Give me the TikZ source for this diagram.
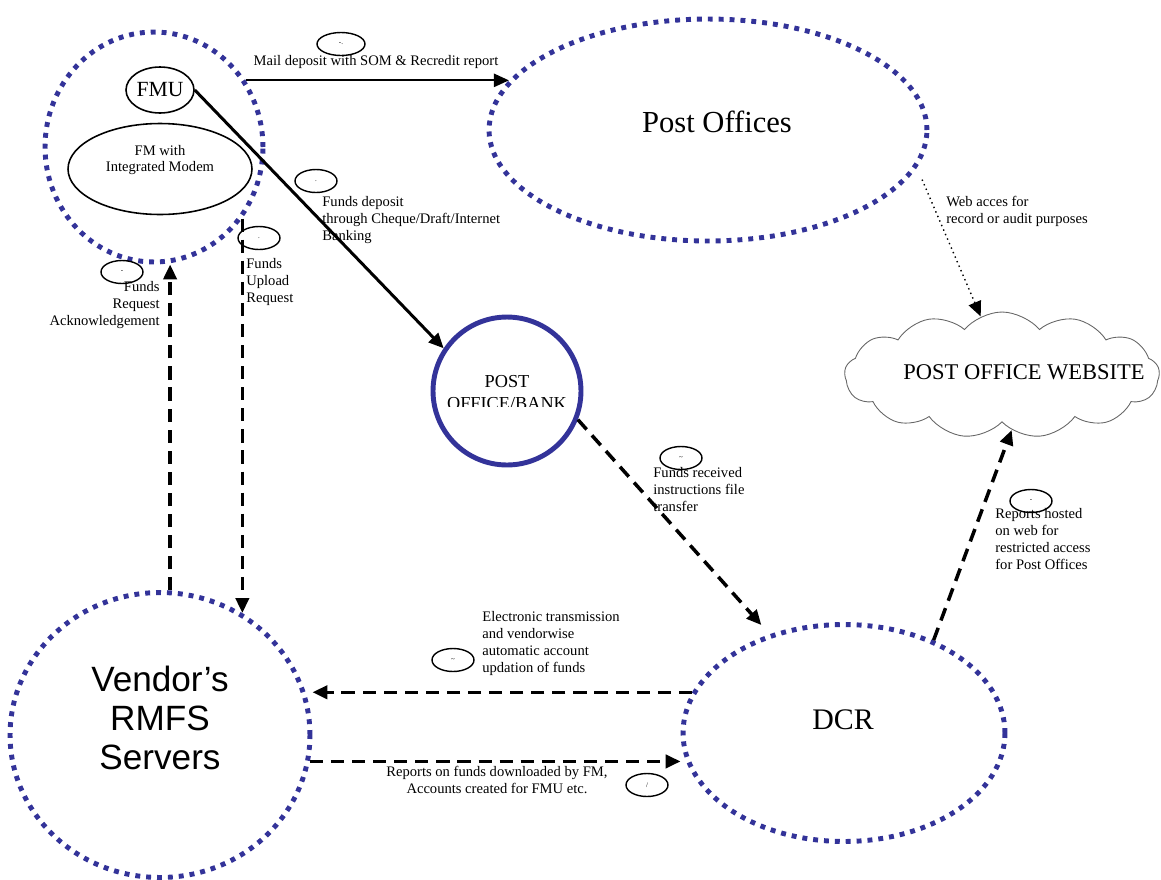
\documentclass[tikz,border=0pt]{standalone}
\usepackage{fontspec}
\setmainfont{Liberation Serif}
\setsansfont{Liberation Sans}
\usetikzlibrary{shapes.geometric,shapes.symbols,arrows.meta}
\definecolor{zoneblue}{RGB}{51,51,153}
\tikzset{
  bluezone/.style={ellipse, draw=zoneblue, line width=2.8pt, dash pattern=on 2.8pt off 3.4pt, inner sep=0pt},
  plainbox/.style={ellipse, draw, line width=0.9pt, inner sep=0pt},
  numtag/.style={ellipse, draw, line width=0.8pt, minimum width=0.84cm, minimum height=0.46cm, inner sep=0pt, font=\fontsize{4}{4}\selectfont},
  labeltext/.style={inner sep=0pt, align=left, font=\fontsize{8.3}{9.6}\selectfont},
  flow/.style={-{Triangle[length=8.5pt,width=7.5pt]}},
  dataflow/.style={flow, line width=2pt, dash pattern=on 7.5pt off 4.5pt}
}
\begin{document}
\begin{tikzpicture}[x=0.02cm, y=-0.02cm]
    \useasboundingbox (0,0) rectangle (1161,880);

    % FMU zone
    \node[bluezone, minimum width=4.36cm, minimum height=4.6cm] (fmuzone) at (154,147) {};
    \node[plainbox, minimum width=1.36cm, minimum height=0.92cm, font=\fontsize{12.3}{14}\selectfont] (fmu) at (160,90) {FMU};
    \node[plainbox, minimum width=3.68cm, minimum height=1.82cm] (modem) at (160,169) {};
    \node[labeltext, align=center] (modemtext) at (160,160) {FM with\\Integrated Modem};

    % Post Offices
    \node[bluezone, minimum width=8.76cm, minimum height=4.44cm] (postoffices) at (708,130) {};
    \node[font=\fontsize{17.4}{20}\selectfont] (postofficestext) at (717,122) {Post Offices};

    % Post office / bank
    \node[circle, draw=zoneblue, line width=2.8pt, minimum size=2.96cm, inner sep=0pt] (pobank) at (507,391) {};
    \begin{scope}
        \clip (420,300) rectangle (600,406);
        \node[font=\fontsize{10.4}{12.5}\selectfont, align=center] (pobanktext) at (507,393) {POST\\OFFICE/BANK};
    \end{scope}

    % Website
    \node[cloud, draw=black!60, line width=0.5pt, cloud puffs=13, cloud puff arc=100, cloud ignores aspect, minimum width=6.3cm, minimum height=2.52cm, inner sep=0pt] (website) at (1002,375) {};
    \node[font=\fontsize{12.8}{15}\selectfont] (websitetext) at (1024,372) {POST OFFICE WEBSITE};

    % DCR
    \node[bluezone, minimum width=6.44cm, minimum height=4.34cm] (dcr) at (844,733) {};
    \node[font=\fontsize{17}{20}\selectfont] (dcrtext) at (843,720) {DCR};

    % Vendor servers
    \node[bluezone, minimum width=6cm, minimum height=5.7cm] (vendor) at (160,735) {};
    \node[font=\sffamily\fontsize{20}{22}\selectfont, align=center] (vendortext) at (160,718) {Vendor’s\\RMFS\\Servers};

    % Mail deposit
    \draw[flow, line width=1.1pt] (fmuzone.36) -- (fmuzone.36 -| postoffices.166);
    \node[labeltext] (mailnote) at (376,62) {Mail deposit with SOM \& Recredit report};
    \node[numtag, minimum width=0.96cm] (tagmail) at (341,44) {-.};

    % Funds deposit
    \draw[flow, line width=1.7pt] (fmu.east) -- (pobank.146);
    \node[labeltext, anchor=north west] (depositnote) at (322,196) {Funds deposit\\through Cheque/Draft/Internet\\Banking};
    \node[numtag] (tagdeposit) at (316,181) {.};

    % Funds upload
    \draw[dataflow] (fmuzone.-39.5) -- (fmuzone.-39.5 |- vendor.56);
    \node[labeltext, anchor=north west] (uploadnote) at (246,258) {Funds\\Upload\\Request};
    \node[numtag] (tagupload) at (259,238) {.};

    % Acknowledgement
    \draw[dataflow] (vendor.86) -- (vendor.86 |- fmuzone.south);
    \node[labeltext, anchor=north east, align=right] (acknote) at (160,281) {Funds\\Request\\Acknowledgement};
    \node[numtag] (tagack) at (122,272) {-};

    % Funds received
    \draw[dataflow, shorten >=7pt] (pobank.-22) -- (dcr.127);
    \node[labeltext, anchor=north west] (receivednote) at (653,467) {Funds received\\instructions file\\transfer};
    \node[numtag] (tagreceived) at (681,458) {\textasciitilde};

    % Electronic transmission
    \draw[dataflow] (dcr.165.4) -- (dcr.165.4 -| vendor.east);
    \node[labeltext, anchor=north west] (electronote) at (482,611) {Electronic transmission\\and vendorwise\\automatic account\\updation of funds};
    \node[numtag] (tagelectro) at (453,660) {\textasciitilde};

    % Reports on funds
    \draw[dataflow] (vendor.-10.6) -- (vendor.-10.6 -| dcr.west);
    \node[labeltext, anchor=north, align=center] (reportsnote) at (497,766) {Reports on funds downloaded by FM,\\Accounts created for FMU etc.};
    \node[numtag] (tagreports) at (647,785) {/};

    % Reports hosted
    \draw[dataflow] (dcr.46) -- (website.-80);
    \node[labeltext, anchor=north west] (hostednote) at (995,508) {Reports hosted\\on web for\\restricted access\\for Post Offices};
    \node[numtag] (taghosted) at (1031,501) {-};

    % Web access
    \draw[flow, dotted, line width=0.8pt] ([xshift=0.3cm]postoffices.-14) -- (website.110);
    \node[labeltext, anchor=north west] (webnote) at (946,196) {Web acces for\\record or audit purposes};
\end{tikzpicture}
\end{document}
